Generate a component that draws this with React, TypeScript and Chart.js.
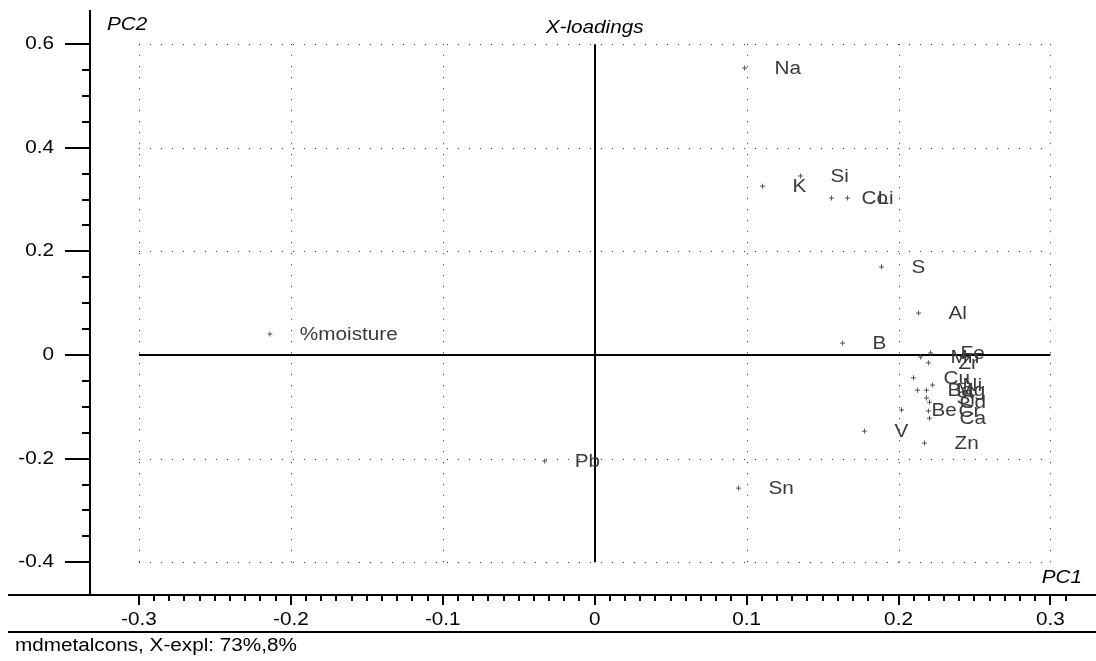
import React, { useEffect, useRef } from "react";
import { Chart, registerables } from "chart.js";

Chart.register(...registerables);

// ---- data ----
const variables = ["%moisture", "Na", "K", "Si", "Co", "Li", "S", "Al", "B", "Mn", "Fe", "Zr", "Cu", "Ni", "Ba", "Mg", "Sr", "Cd", "Be", "Cr", "Ca", "V", "Zn", "Pb", "Sn"];
const pc1 = [-0.2138, 0.0987, 0.1105, 0.1355, 0.1559, 0.1664, 0.1888, 0.2132, 0.1632, 0.2145, 0.2211, 0.2197, 0.2099, 0.2224, 0.2125, 0.2184, 0.2184, 0.2204, 0.202, 0.2197, 0.2204, 0.1776, 0.2171, -0.0329, 0.0947];
const pc2 = [0.0405, 0.554, 0.326, 0.3456, 0.303, 0.303, 0.17, 0.081, 0.023, -0.004, 0.004, -0.015, -0.044, -0.058, -0.068, -0.068, -0.083, -0.091, -0.106, -0.108, -0.122, -0.147, -0.17, -0.2046, -0.257];

const xTicks = [-0.3, -0.2, -0.1, 0, 0.1, 0.2, 0.3];
const xTickLabels = ["-0.3", "-0.2", "-0.1", "0", "0.1", "0.2", "0.3"];
const yTicks = [-0.4, -0.2, 0, 0.2, 0.4, 0.6];
const yTickLabels = ["-0.4", "-0.2", "0", "0.2", "0.4", "0.6"];
const xMinorStep = 0.01;
const xMinorFrom = -0.3;
const xMinorTo = 0.31;
const yMinorStep = 0.05;
const yMinorFrom = -0.4;
const yMinorTo = 0.6;

const plotTitle = "X-loadings";
const xTitle = "PC1";
const yTitle = "PC2";
const footer = "mdmetalcons, X-expl: 73%,8%";

const X_MIN = -0.3322;
const X_MAX = 0.33;
const Y_MIN = -0.4633;
const Y_MAX = 0.666;

const SX = 1.15; // horizontal text stretch
const FONT = "18px 'Liberation Sans', Arial, sans-serif";
const IFONT = "italic 18px 'Liberation Sans', Arial, sans-serif";

function drawText(ctx: CanvasRenderingContext2D, text: string, x: number, y: number, align: "left" | "center" | "right", font: string, color: string) {
  ctx.save();
  ctx.font = font;
  const w = ctx.measureText(text).width * SX;
  let left = x;
  if (align === "center") left = x - w / 2;
  else if (align === "right") left = x - w;
  ctx.translate(left, y);
  ctx.scale(SX, 1);
  ctx.fillStyle = color;
  ctx.textAlign = "left";
  ctx.textBaseline = "middle";
  ctx.fillText(text, 0, 0);
  ctx.restore();
}

const decorPlugin = {
  id: "decor",
  beforeDatasetsDraw(chart: any) {
    const ctx: CanvasRenderingContext2D = chart.ctx;
    const xs = chart.scales.x;
    const ys = chart.scales.y;
    const xL = xs.getPixelForValue(xTicks[0]);
    const xR = xs.getPixelForValue(xTicks[xTicks.length - 1]);
    const yT = ys.getPixelForValue(yTicks[yTicks.length - 1]);
    const yB = ys.getPixelForValue(yTicks[0]);
    ctx.save();
    ctx.strokeStyle = "#222";
    ctx.lineWidth = 1;
    ctx.setLineDash([1, 10]);
    xTicks.forEach((v) => {
      if (v === 0) return;
      const px = Math.round(xs.getPixelForValue(v)) + 0.5;
      ctx.beginPath();
      ctx.moveTo(px, yT);
      ctx.lineTo(px, yB + 1);
      ctx.stroke();
    });
    yTicks.forEach((v) => {
      if (v === 0) return;
      const py = Math.round(ys.getPixelForValue(v)) + 0.5;
      ctx.beginPath();
      ctx.moveTo(xL, py);
      ctx.lineTo(xR + 1, py);
      ctx.stroke();
    });
    ctx.setLineDash([]);
    ctx.strokeStyle = "#000";
    ctx.lineWidth = 2;
    const x0 = Math.round(xs.getPixelForValue(0));
    const y0 = Math.round(ys.getPixelForValue(0));
    ctx.beginPath();
    ctx.moveTo(x0, yT);
    ctx.lineTo(x0, yB);
    ctx.moveTo(xL, y0);
    ctx.lineTo(xR, y0);
    ctx.stroke();
    ctx.restore();
  },
  afterDraw(chart: any) {
    const ctx: CanvasRenderingContext2D = chart.ctx;
    const xs = chart.scales.x;
    const ys = chart.scales.y;
    const area = chart.chartArea;
    const W = chart.width;
    ctx.save();
    ctx.strokeStyle = "#000";
    ctx.lineWidth = 2;
    const left = Math.round(area.left);
    const bottom = Math.round(area.bottom);
    // axis lines
    ctx.beginPath();
    ctx.moveTo(left, area.top);
    ctx.lineTo(left, bottom);
    ctx.moveTo(8, bottom);
    ctx.lineTo(W, bottom);
    ctx.moveTo(8, bottom + 37);
    ctx.lineTo(W, bottom + 37);
    ctx.stroke();
    // y ticks
    const nY = Math.round((yMinorTo - yMinorFrom) / yMinorStep);
    for (let i = 0; i <= nY; i++) {
      const v = yMinorFrom + i * yMinorStep;
      const py = Math.round(ys.getPixelForValue(v));
      const major = yTicks.some((t) => Math.abs(t - v) < 1e-6);
      ctx.beginPath();
      ctx.moveTo(left - (major ? 25 : 8), py);
      ctx.lineTo(left, py);
      ctx.stroke();
    }
    // x ticks
    const nX = Math.round((xMinorTo - xMinorFrom) / xMinorStep);
    for (let i = 0; i <= nX; i++) {
      const v = xMinorFrom + i * xMinorStep;
      const px = Math.round(xs.getPixelForValue(v));
      const major = xTicks.some((t) => Math.abs(t - v) < 1e-6);
      ctx.beginPath();
      ctx.moveTo(px, bottom);
      ctx.lineTo(px, bottom + (major ? 10 : 6));
      ctx.stroke();
    }
    ctx.restore();
    // tick labels
    yTicks.forEach((v, i) => {
      drawText(ctx, yTickLabels[i], left - 36, ys.getPixelForValue(v), "right", FONT, "#000");
    });
    xTicks.forEach((v, i) => {
      drawText(ctx, xTickLabels[i], xs.getPixelForValue(v), bottom + 25, "center", FONT, "#000");
    });
    // titles
    drawText(ctx, yTitle, left + 17, area.top + 15, "left", IFONT, "#000");
    drawText(ctx, plotTitle, xs.getPixelForValue(0), area.top + 18, "center", IFONT, "#000");
    drawText(ctx, xTitle, W - 14, bottom - 17, "right", IFONT, "#000");
    drawText(ctx, footer, 15, bottom + 51, "left", FONT, "#000");
    // point labels
    variables.forEach((name, i) => {
      const px = xs.getPixelForValue(pc1[i]);
      const py = ys.getPixelForValue(pc2[i]);
      drawText(ctx, name, px + 30, py + 1, "left", FONT, "#3a3a3a");
    });
  },
};

export default function App() {
  const ref = useRef<HTMLCanvasElement | null>(null);
  useEffect(() => {
    if (!ref.current) return;
    const chart = new Chart(ref.current, {
      type: "scatter",
      data: {
        datasets: [
          {
            label: "loadings",
            data: pc1.map((x, i) => ({ x, y: pc2[i] })),
            pointStyle: "cross",
            pointRadius: 2.5,
            pointBorderWidth: 1,
            borderColor: "#555",
            backgroundColor: "#555",
          },
        ],
      },
      options: {
        animation: false,
        responsive: false,
        devicePixelRatio: 1,
        layout: { autoPadding: false, padding: { top: 10, left: 0, right: 0, bottom: 0 } },
        plugins: { legend: { display: false }, tooltip: { enabled: false }, title: { display: false } },
        scales: {
          x: {
            type: "linear",
            min: X_MIN,
            max: X_MAX,
            grid: { display: false },
            border: { display: false },
            ticks: { display: false },
            afterFit: (s: any) => { s.height = 66; },
          },
          y: {
            type: "linear",
            min: Y_MIN,
            max: Y_MAX,
            grid: { display: false },
            border: { display: false },
            ticks: { display: false },
            afterFit: (s: any) => { s.width = 90; },
          },
        },
      },
      plugins: [decorPlugin],
    });
    return () => chart.destroy();
  }, []);
  return (
    <div style={{ position: "fixed", left: 0, top: 0, width: 1096, height: 661, background: "#fff" }}>
      <canvas ref={ref} width={1096} height={661} style={{ display: "block", width: 1096, height: 661 }} />
    </div>
  );
}
